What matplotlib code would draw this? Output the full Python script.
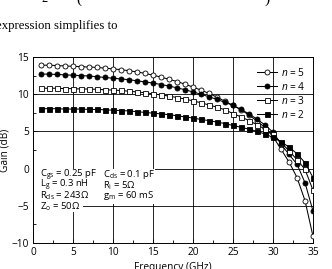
import numpy as np
import matplotlib.pyplot as plt
from matplotlib.ticker import MultipleLocator
from matplotlib.patches import Rectangle

plt.rcParams['font.family'] = ['Open Sans', 'DejaVu Sans']
plt.rcParams['mathtext.fontset'] = 'custom'
plt.rcParams['mathtext.rm'] = 'Open Sans'
plt.rcParams['mathtext.it'] = 'Open Sans:italic'
plt.rcParams['mathtext.default'] = 'regular'

# Frequency points (GHz)
freq = np.arange(1, 36)

# Gain (dB)
gain_n5 = [13.9, 13.9, 13.85, 13.8, 13.75, 13.7, 13.65, 13.6, 13.5, 13.4,
           13.3, 13.15, 13.0, 12.8, 12.55, 12.3, 12.0, 11.7, 11.35, 10.95,
           10.55, 10.1, 9.6, 9.05, 8.5, 7.9, 7.2, 6.4, 5.5, 4.3,
           2.6, 0.9, -1.2, -4.3, -9.1]
gain_n4 = [12.7, 12.7, 12.65, 12.6, 12.55, 12.5, 12.45, 12.35, 12.25, 12.15,
           12.05, 11.95, 11.8, 11.65, 11.5, 11.3, 11.1, 10.85, 10.6, 10.3,
           10.0, 9.65, 9.3, 8.9, 8.5, 7.95, 7.35, 6.65, 5.85, 4.9,
           3.3, 1.9, 0.6, -1.9, -5.7]
gain_n3 = [10.8, 10.8, 10.8, 10.75, 10.75, 10.7, 10.7, 10.65, 10.6, 10.55,
           10.5, 10.4, 10.3, 10.2, 10.05, 9.9, 9.75, 9.55, 9.35, 9.1,
           8.85, 8.55, 8.25, 7.9, 7.4, 6.95, 6.45, 5.9, 5.3, 4.6,
           3.5, 2.4, 1.2, -0.1, -2.9]
gain_n2 = [8.05, 8.05, 8.05, 8.0, 8.0, 8.0, 7.95, 7.95, 7.9, 7.85,
           7.8, 7.75, 7.65, 7.55, 7.45, 7.35, 7.25, 7.1, 6.95, 6.8,
           6.6, 6.45, 6.25, 6.05, 5.8, 5.55, 5.3, 5.0, 4.65, 4.2,
           3.6, 2.9, 2.0, 0.8, -1.2]

# circuit parameters shown in the box
params_left = ['$C_{gs}$ = 0.25 pF', '$L_g$ = 0.3 nH', '$R_{ds}$ = 243\u03a9', '$Z_o$ = 50\u03a9']
params_right = ['$C_{ds}$ = 0.1 pF', '$R_i$ = 5\u03a9', '$g_m$ = 60 mS']

W, H = 332, 269
fig = plt.figure(figsize=(W / 100, H / 100), dpi=100)
ax = fig.add_axes([33 / W, 1 - 243 / H, 280 / W, 186 / H])

# text of the page above the figure
fig.text(41 / W, 1 - 2 / H, '2', fontsize=9, family='Liberation Serif', va='baseline')
fig.text(76 / W, 1 - 3 / H, '(', fontsize=11, family='Liberation Serif', va='baseline')
fig.text(264 / W, 1 - 3 / H, ')', fontsize=11, family='Liberation Serif', va='baseline')
fig.text(-4 / W, 1 - 29 / H, 'expression simplifies to', fontsize=9.2,
         family='Liberation Serif', va='baseline')

series = [
    (gain_n5, 'o', 'white', r'$\mathit{n}$ = 5'),
    (gain_n4, 'o', 'black', r'$\mathit{n}$ = 4'),
    (gain_n3, 's', 'white', r'$\mathit{n}$ = 3'),
    (gain_n2, 's', 'black', r'$\mathit{n}$ = 2'),
]
for g, m, fc, lab in series:
    ax.plot(freq, g, color='black', lw=0.75, marker=m, ms=3.6, mfc=fc,
            mec='black', mew=0.6, label=lab, zorder=3)

ax.set_xlim(0, 35)
ax.set_ylim(-10, 15)
ax.xaxis.set_major_locator(MultipleLocator(5))
ax.xaxis.set_minor_locator(MultipleLocator(2.5))
ax.yaxis.set_major_locator(MultipleLocator(5))
ax.yaxis.set_minor_locator(MultipleLocator(2.5))
ax.tick_params(which='both', direction='in', labelsize=7.3, pad=3)
ax.tick_params(which='major', length=3, width=0.6)
ax.tick_params(which='minor', length=2, width=0.6)
ax.grid(True, which='major', color='black', lw=0.6)
for s in ax.spines.values():
    s.set_linewidth(0.7)
ax.set_yticks([-10, -5, 0, 5, 10, 15])
ax.set_yticklabels(['\u221210', '\u22125', '0', '5', '10', '15'])

ax.set_xlabel('Frequency (GHz)', fontsize=7.3, labelpad=3)
ax.set_ylabel('Gain (dB)', fontsize=7.3)
ax.yaxis.set_label_coords(-0.079, 0.5)

ax.legend(loc='upper right', bbox_to_anchor=(1.0, 0.985), frameon=False,
          fontsize=7.3, handlelength=2.0, labelspacing=0.2, handletextpad=0.4,
          borderaxespad=0.3)

# white background behind the parameter text
ax.add_patch(Rectangle((0.1, -4.7), 15.2, 4.6, facecolor='white', edgecolor='none', zorder=2))
ax.add_patch(Rectangle((0.1, -5.8), 6.1, 1.2, facecolor='white', edgecolor='none', zorder=2))
rows_y = [-0.86, -2.3, -3.64, -5.1]
for t, yy in zip(params_left, rows_y):
    ax.text(0.9, yy, t, fontsize=6.8, va='center', ha='left', zorder=4)
for t, yy in zip(params_right, rows_y):
    ax.text(8.7, yy, t, fontsize=6.8, va='center', ha='left', zorder=4)

fig.savefig('out.png', dpi=100)
